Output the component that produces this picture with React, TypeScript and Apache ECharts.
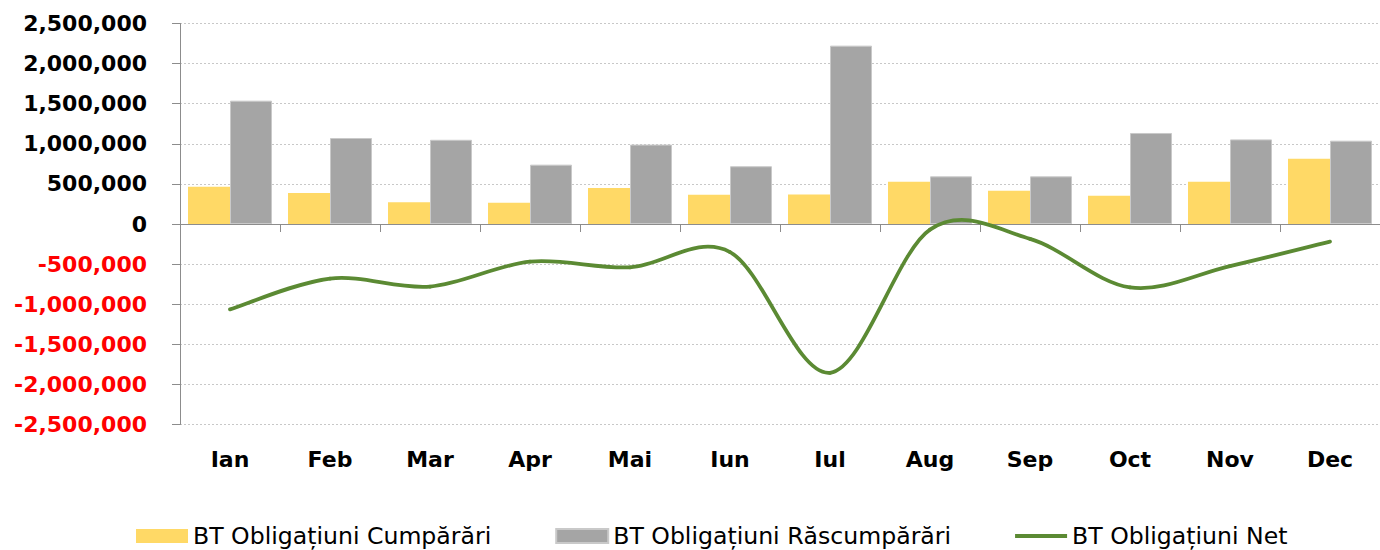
import React, { useEffect, useRef } from "react";
import * as echarts from "echarts";

const months = ["Ian", "Feb", "Mar", "Apr", "Mai", "Iun", "Iul", "Aug", "Sep", "Oct", "Nov", "Dec"];
const cumparari = [465000, 387000, 272000, 265000, 450000, 365000, 369000, 528000, 415000, 353000, 528000, 814000];
const rascumparari = [1538000, 1072000, 1050000, 740000, 990000, 720000, 2224000, 594000, 594000, 1135000, 1055000, 1039000];
const net = [-1065000, -680000, -780000, -470000, -540000, -350000, -1855000, -70000, -185000, -790000, -525000, -220000];
const yTicks = { min: -2500000, max: 2500000, interval: 500000 };

const FONT = "DejaVu Sans";
const GREEN = "#5b8a33";

export default function App() {
  const ref = useRef<HTMLDivElement>(null);
  useEffect(() => {
    if (!ref.current) return;
    const chart = echarts.init(ref.current, null, { renderer: "svg" });
    const renderCurve = (params: any, api: any) => {
      const n = params.dataInsideLength;
      const i = params.dataIndexInside;
      if (i >= n - 1) return null;
      const pt = (k: number) => {
        const kk = Math.max(0, Math.min(n - 1, k));
        return api.coord([api.value(0, kk), api.value(1, kk)]);
      };
      const p0 = pt(i - 1);
      const p1 = pt(i);
      const p2 = pt(i + 1);
      const p3 = pt(i + 2);
      return {
        type: "bezierCurve",
        shape: {
          x1: p1[0],
          y1: p1[1],
          x2: p2[0],
          y2: p2[1],
          cpx1: p1[0] + (p2[0] - p0[0]) / 6,
          cpy1: p1[1] + (p2[1] - p0[1]) / 6,
          cpx2: p2[0] - (p3[0] - p1[0]) / 6,
          cpy2: p2[1] - (p3[1] - p1[1]) / 6,
        },
        style: { stroke: GREEN, lineWidth: 3.75, fill: "none", lineCap: "round" },
        z2: 10,
      };
    };
    chart.setOption({
      animation: false,
      backgroundColor: "#ffffff",
      textStyle: { fontFamily: FONT },
      grid: { left: 180, right: 0, top: 23.5, bottom: 125.5, containLabel: false },
      legend: {
        left: 131,
        top: 519,
        itemWidth: 52,
        itemHeight: 14,
        itemGap: 64,
        textStyle: { fontFamily: FONT, fontSize: 23.6, color: "#000" },
        data: [
          { name: "BT Obligațiuni Cumpărări", icon: "rect" },
          { name: "BT Obligațiuni Răscumpărări", icon: "rect" },
          {
            name: "BT Obligațiuni Net",
            icon: "path://M0,0L0.01,0M0,5L52,5L52,9L0,9ZM51.99,14L52,14",
          },
        ],
      },
      xAxis: [
        {
          type: "category",
          data: months,
          position: "bottom",
          axisLine: { show: false, onZero: false },
          axisTick: { show: false },
          axisLabel: {
            margin: 24,
            fontFamily: FONT,
            fontSize: 22,
            fontWeight: "bold",
            color: "#000",
          },
          splitLine: { show: false },
        },
        {
          type: "category",
          data: months,
          position: "bottom",
          axisLine: { show: true, onZero: true, lineStyle: { color: "#8c8c8c", width: 1 } },
          axisTick: { show: true, length: 8, lineStyle: { color: "#8c8c8c" } },
          axisLabel: { show: false },
          splitLine: { show: false },
        },
      ],
      yAxis: {
        type: "value",
        min: yTicks.min,
        max: yTicks.max,
        interval: yTicks.interval,
        axisLine: { show: true, lineStyle: { color: "#8c8c8c", width: 1 } },
        axisTick: { show: true, length: 8, lineStyle: { color: "#8c8c8c" } },
        splitLine: { show: true, lineStyle: { color: "#c8c8c8", type: [2, 2], width: 1 } },
        axisLabel: {
          margin: 33,
          formatter: (v: number) => {
            const s = Math.abs(v).toLocaleString("en-US");
            return v < 0 ? "{neg|-" + s + "}" : "{pos|" + s + "}";
          },
          rich: {
            pos: { fontFamily: FONT, fontSize: 22, fontWeight: "bold", color: "#000" },
            neg: { fontFamily: FONT, fontSize: 22, fontWeight: "bold", color: "#ff0000" },
          },
        },
      },
      series: [
        {
          name: "BT Obligațiuni Cumpărări",
          type: "bar",
          xAxisIndex: 0,
          data: cumparari,
          barGap: "0%",
          barCategoryGap: "16%",
          itemStyle: { color: "#ffd966" },
        },
        {
          name: "BT Obligațiuni Răscumpărări",
          type: "bar",
          xAxisIndex: 0,
          data: rascumparari,
          barGap: "0%",
          barCategoryGap: "16%",
          itemStyle: { color: "#a5a5a5", borderColor: "#c9c9c9", borderWidth: 1 },
        },
        {
          name: "BT Obligațiuni Net",
          type: "custom",
          xAxisIndex: 0,
          data: net.map((v, i) => [i, v]),
          encode: { x: 0, y: 1 },
          renderItem: renderCurve,
          itemStyle: { color: GREEN },
          clip: false,
          z: 5,
        },
      ],
    });
    return () => chart.dispose();
  }, []);
  return (
    <div
      ref={ref}
      style={{ position: "fixed", left: 0, top: 0, width: 1380, height: 550 }}
    />
  );
}
